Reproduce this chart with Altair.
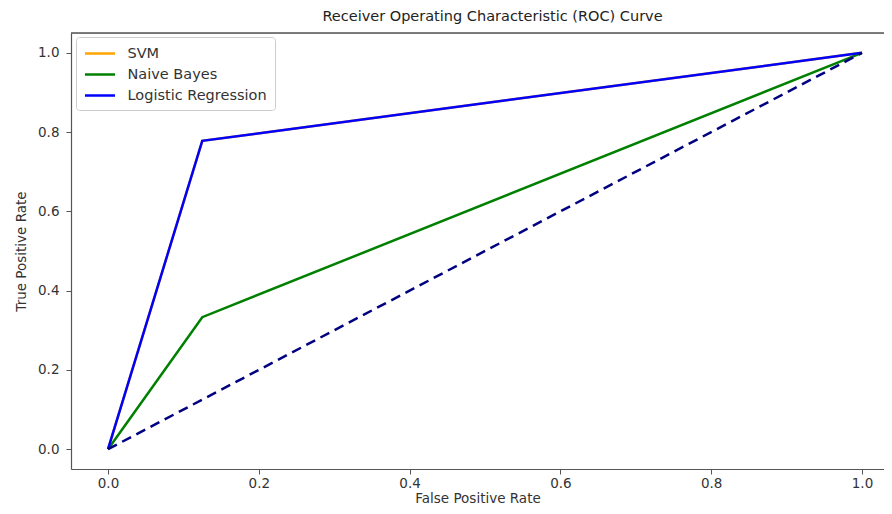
import altair as alt
import pandas as pd

series = ["SVM", "Naive Bayes", "Logistic Regression"]
colors = ["#FFA500", "#008000", "#0000FF"]
fpr = {
    "SVM": [0.0, 0.125, 1.0],
    "Naive Bayes": [0.0, 0.125, 1.0],
    "Logistic Regression": [0.0, 0.125, 1.0],
}
tpr = {
    "SVM": [0.0, 0.778, 1.0],
    "Naive Bayes": [0.0, 0.333, 1.0],
    "Logistic Regression": [0.0, 0.778, 1.0],
}
diag_x = [0.0, 1.0]
diag_y = [0.0, 1.0]
ticks = [0.0, 0.2, 0.4, 0.6, 0.8, 1.0]

rows = []
for s in series:
    for i, (a, b) in enumerate(zip(fpr[s], tpr[s])):
        rows.append({"series": s, "fpr": a, "tpr": b, "i": i})
df = pd.DataFrame(rows)
diag = pd.DataFrame({"fpr": diag_x, "tpr": diag_y})

W, H = 813, 436
xs = alt.Scale(domain=[-0.0491, 1.0292], nice=False, zero=False)
ys = alt.Scale(domain=[-0.05, 1.05], nice=False, zero=False)
font = "DejaVu Sans"
txt = "#333"
ax = "#555"

xaxis = alt.Axis(values=ticks, format=".1f", title="False Positive Rate", grid=False,
                 tickSize=5, labelPadding=2, titlePadding=2, labelFontSize=13.5,
                 titleFontSize=13.5, titleFontWeight="normal", labelColor=txt,
                 titleColor=txt, domainColor=ax, tickColor=ax, domainWidth=1.2,
                 labelFont=font, titleFont=font)
yaxis = alt.Axis(values=ticks, format=".1f", title="True Positive Rate", grid=False,
                 tickSize=5, labelPadding=7, titlePadding=9, labelFontSize=13.5,
                 titleFontSize=13.5, titleFontWeight="normal", labelColor=txt,
                 titleColor=txt, domainColor=ax, tickColor=ax, domainWidth=1.2,
                 labelFont=font, titleFont=font)

lines = alt.Chart(df).mark_line(strokeWidth=2.5).encode(
    x=alt.X("fpr:Q", scale=xs, axis=xaxis),
    y=alt.Y("tpr:Q", scale=ys, axis=yaxis),
    order="i:Q",
    color=alt.Color("series:N", scale=alt.Scale(domain=series, range=colors),
                    sort=series,
                    legend=alt.Legend(title=None, orient="none", legendX=5, legendY=4,
                                      symbolType="M-1,0L3,0", symbolSize=225,
                                      symbolStrokeWidth=2.5, labelFontSize=14.5,
                                      labelFont=font, labelColor=txt,
                                      fillColor="white", strokeColor="#ccc",
                                      cornerRadius=3, padding=7.5, rowPadding=5,
                                      labelOffset=26)),
)

diag_line = alt.Chart(diag).mark_line(strokeWidth=2.5, color="#000080",
                                      strokeDash=[10, 6]).encode(
    x=alt.X("fpr:Q", scale=xs),
    y=alt.Y("tpr:Q", scale=ys),
)

top_spine = alt.Chart(diag).mark_rule(color=ax, strokeWidth=1.2).encode(
    x=alt.value(0), x2=alt.value(W), y=alt.value(0)
)

chart = alt.layer(lines, diag_line, top_spine).properties(
    width=W, height=H,
    title=alt.Title("Receiver Operating Characteristic (ROC) Curve", fontSize=14.5,
                    font=font, fontWeight="normal", color="#222", offset=8,
                    anchor="middle", dx=15),
    autosize=alt.AutoSizeParams(type="none"),
    padding={"left": 63, "top": 25, "right": 0, "bottom": 37},
).configure_view(stroke=None).configure(background="white")

chart.save("out.html", embed_options={"renderer": "svg", "actions": False})
